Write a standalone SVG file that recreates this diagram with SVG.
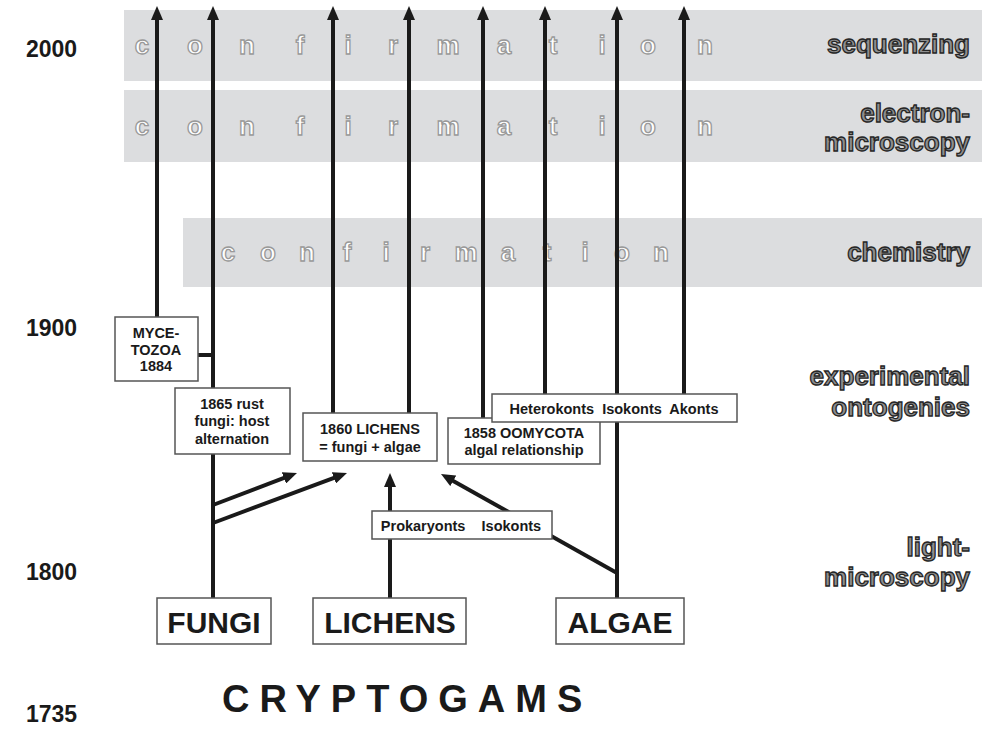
<svg xmlns="http://www.w3.org/2000/svg" width="982" height="731" viewBox="0 0 982 731">
<style>
.band{fill:#dcdddf}
.conf{font-family:"Liberation Sans",Arial,sans-serif;font-weight:bold;font-size:26px;fill:#ffffff;stroke:#999999;stroke-width:1.3;text-anchor:middle}
.era{font-family:"Liberation Sans",Arial,sans-serif;font-weight:bold;font-size:26px;fill:#8e8e8e;stroke:#262626;stroke-width:1.3;text-anchor:end}
.year{font-family:"Liberation Sans",Arial,sans-serif;font-weight:bold;font-size:23px;fill:#1a1a1a}
.box{fill:#ffffff;stroke:#555555;stroke-width:1.5}
.lbl{font-family:"Liberation Sans",Arial,sans-serif;font-weight:bold;font-size:14.5px;fill:#1a1a1a;text-anchor:middle}
.big{font-family:"Liberation Sans",Arial,sans-serif;font-weight:bold;font-size:30px;fill:#1a1a1a;text-anchor:middle}
.ln{stroke:#1a1a1a;stroke-width:4;fill:none}
.ar{stroke:#1a1a1a;stroke-width:4;fill:none;marker-end:url(#ah)}
</style>
<defs>
<marker id="ah" viewBox="0 0 14 12" refX="3" refY="6" markerWidth="14" markerHeight="12" markerUnits="userSpaceOnUse" orient="auto">
<path d="M0,0 L14,6 L0,12 z" fill="#1a1a1a"/>
</marker>
</defs>

<g id="bands">
<rect class="band" x="124" y="10" width="858" height="71"/>
<rect class="band" x="124" y="90" width="858" height="72"/>
<rect class="band" x="183" y="218" width="799" height="69"/>
</g>

<g id="confirmation-texts">
<g class="conf">
<text x="142" y="54">c</text><text x="195" y="54">o</text><text x="247" y="54">n</text><text x="300" y="54">f</text><text x="348" y="54">i</text><text x="393" y="54">r</text><text x="448" y="54">m</text><text x="504" y="54">a</text><text x="553" y="54">t</text><text x="602" y="54">i</text><text x="648" y="54">o</text><text x="705" y="54">n</text>
<text x="142" y="135">c</text><text x="195" y="135">o</text><text x="247" y="135">n</text><text x="300" y="135">f</text><text x="348" y="135">i</text><text x="393" y="135">r</text><text x="448" y="135">m</text><text x="504" y="135">a</text><text x="553" y="135">t</text><text x="602" y="135">i</text><text x="648" y="135">o</text><text x="705" y="135">n</text>
<text x="228" y="261">c</text><text x="268" y="261">o</text><text x="307" y="261">n</text><text x="347" y="261">f</text><text x="386" y="261">i</text><text x="425" y="261">r</text><text x="466" y="261">m</text><text x="508" y="261">a</text><text x="547" y="261">t</text><text x="585" y="261">i</text><text x="622" y="261">o</text><text x="661" y="261">n</text>
</g>
</g>

<g id="era-labels" class="era">
<text x="970" y="53">sequenzing</text>
<text x="970" y="122">electron-</text>
<text x="970" y="151">microscopy</text>
<text x="970" y="261">chemistry</text>
<text x="970" y="385">experimental</text>
<text x="970" y="416">ontogenies</text>
<text x="970" y="556">light-</text>
<text x="970" y="586">microscopy</text>
</g>

<g id="years" class="year">
<text x="26" y="57">2000</text>
<text x="26" y="336">1900</text>
<text x="26" y="580">1800</text>
<text x="26" y="722">1735</text>
</g>

<g id="connectors">
<line class="ar" x1="157" y1="317" x2="157" y2="17"/>
<line class="ar" x1="213" y1="598" x2="213" y2="17"/>
<line class="ar" x1="333" y1="413" x2="333" y2="17"/>
<line class="ar" x1="409" y1="413" x2="409" y2="17"/>
<line class="ar" x1="483" y1="418" x2="483" y2="17"/>
<line class="ar" x1="545" y1="394" x2="545" y2="17"/>
<line class="ar" x1="617" y1="598" x2="617" y2="17"/>
<line class="ar" x1="684" y1="394" x2="684" y2="17"/>
<line class="ln" x1="197" y1="355" x2="213" y2="355"/>
<line class="ar" x1="213" y1="505" x2="286.7" y2="476.9"/>
<line class="ar" x1="213" y1="523" x2="336.7" y2="476.8"/>
<line class="ar" x1="390" y1="598" x2="390" y2="484"/>
<line class="ar" x1="617" y1="573" x2="450.6" y2="479.4"/>
</g>

<g id="mycetozoa">
<rect class="box" x="115" y="317" width="83" height="64"/>
<text class="lbl" x="156" y="338">MYCE-</text>
<text class="lbl" x="156" y="355">TOZOA</text>
<text class="lbl" x="156" y="371">1884</text>
</g>

<g id="rust">
<rect class="box" x="175" y="388" width="115" height="66"/>
<text class="lbl" x="232" y="409">1865 rust</text>
<text class="lbl" x="232" y="426">fungi: host</text>
<text class="lbl" x="232" y="444">alternation</text>
</g>

<g id="lichens1860">
<rect class="box" x="303" y="413" width="134" height="48"/>
<text class="lbl" x="370" y="434">1860 LICHENS</text>
<text class="lbl" x="370" y="452">= fungi + algae</text>
</g>

<g id="oomycota">
<rect class="box" x="448" y="418" width="152" height="46"/>
<text class="lbl" x="524" y="438">1858 OOMYCOTA</text>
<text class="lbl" x="524" y="455">algal relationship</text>
</g>

<g id="konts">
<rect class="box" x="492" y="394" width="245" height="28"/>
<text class="lbl" x="614" y="414" xml:space="preserve">Heterokonts  Isokonts  Akonts</text>
</g>

<g id="prokaryonts">
<rect class="box" x="372" y="511" width="180" height="28"/>
<text class="lbl" x="461" y="531" font-size="14" xml:space="preserve">Prokaryonts    Isokonts</text>
</g>

<g id="fungi">
<rect class="box" x="157" y="598" width="114" height="46"/>
<text class="big" x="214" y="633">FUNGI</text>
</g>

<g id="lichens">
<rect class="box" x="313" y="598" width="153" height="46"/>
<text class="big" x="390" y="633">LICHENS</text>
</g>

<g id="algae">
<rect class="box" x="556" y="598" width="128" height="46"/>
<text class="big" x="620" y="633">ALGAE</text>
</g>

<g id="cryptogams">
<text x="222" y="712" font-family="'Liberation Sans',Arial,sans-serif" font-weight="bold" font-size="38" letter-spacing="10" fill="#1a1a1a">CRYPTOGAMS</text>
</g>
</svg>
